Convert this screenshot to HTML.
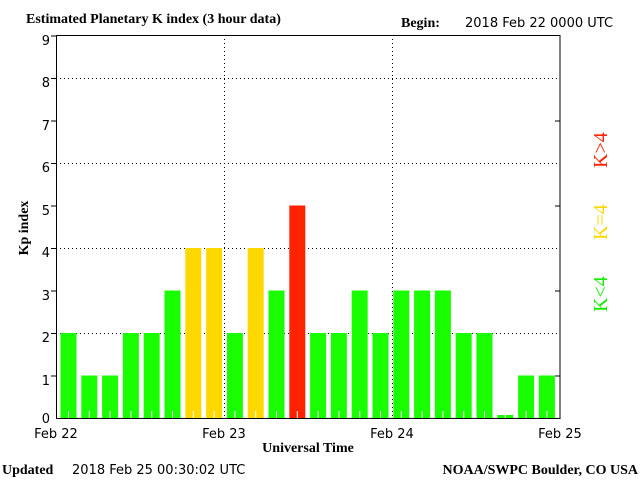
<!DOCTYPE html>
<html><head><meta charset="utf-8"><style>
html,body{margin:0;padding:0;background:#fff;}
svg{display:block;}
.s{font-family:"DejaVu Sans","Liberation Sans",sans-serif;font-size:13px;fill:#000;}
.t{font-family:"Liberation Serif",serif;font-size:14px;font-weight:bold;fill:#000;}
</style></head><body>
<svg width="640" height="480" viewBox="0 0 640 480" xmlns="http://www.w3.org/2000/svg">
<rect width="640" height="480" fill="#fff"/>
<text class="t" x="26" y="23">Estimated Planetary K index (3 hour data)</text>
<text class="t" x="401" y="27">Begin:</text>
<text class="s" x="465" y="27">2018 Feb 22 0000 UTC</text>
<g stroke="#000" stroke-width="1" stroke-dasharray="1,3">
<line x1="56" y1="78.5" x2="560" y2="78.5"/>
<line x1="56" y1="163.5" x2="560" y2="163.5"/>
<line x1="56" y1="248.5" x2="560" y2="248.5"/>
<line x1="56" y1="333.5" x2="560" y2="333.5"/>
<line x1="224.5" y1="35" x2="224.5" y2="418"/>
<line x1="392.5" y1="35" x2="392.5" y2="418"/>
</g>
<g>
<rect x="60.5" y="333" width="16" height="85" fill="#19ff00"/>
<rect x="81.3" y="375.5" width="16" height="42.5" fill="#19ff00"/>
<rect x="102.1" y="375.5" width="16" height="42.5" fill="#19ff00"/>
<rect x="122.9" y="333" width="16" height="85" fill="#19ff00"/>
<rect x="143.7" y="333" width="16" height="85" fill="#19ff00"/>
<rect x="164.5" y="290.5" width="16" height="127.5" fill="#19ff00"/>
<rect x="185.3" y="248" width="16" height="170" fill="#ffd800"/>
<rect x="206.1" y="248" width="16" height="170" fill="#ffd800"/>
<rect x="226.9" y="333" width="16" height="85" fill="#19ff00"/>
<rect x="247.7" y="248" width="16" height="170" fill="#ffd800"/>
<rect x="268.5" y="290.5" width="16" height="127.5" fill="#19ff00"/>
<rect x="289.3" y="205.5" width="16" height="212.5" fill="#ff2200"/>
<rect x="310.1" y="333" width="16" height="85" fill="#19ff00"/>
<rect x="330.9" y="333" width="16" height="85" fill="#19ff00"/>
<rect x="351.7" y="290.5" width="16" height="127.5" fill="#19ff00"/>
<rect x="372.5" y="333" width="16" height="85" fill="#19ff00"/>
<rect x="393.3" y="290.5" width="16" height="127.5" fill="#19ff00"/>
<rect x="414.1" y="290.5" width="16" height="127.5" fill="#19ff00"/>
<rect x="434.9" y="290.5" width="16" height="127.5" fill="#19ff00"/>
<rect x="455.7" y="333" width="16" height="85" fill="#19ff00"/>
<rect x="476.5" y="333" width="16" height="85" fill="#19ff00"/>
<rect x="497.3" y="415" width="16" height="3" fill="#19ff00"/>
<rect x="518.1" y="375.5" width="16" height="42.5" fill="#19ff00"/>
<rect x="538.9" y="375.5" width="16" height="42.5" fill="#19ff00"/>
</g>
<g stroke="#fff">
<line x1="68.5" y1="411" x2="68.5" y2="418"/><line x1="89.3" y1="411" x2="89.3" y2="418"/><line x1="110.1" y1="411" x2="110.1" y2="418"/><line x1="130.9" y1="411" x2="130.9" y2="418"/><line x1="151.7" y1="411" x2="151.7" y2="418"/><line x1="172.5" y1="411" x2="172.5" y2="418"/><line x1="193.3" y1="411" x2="193.3" y2="418"/><line x1="214.1" y1="411" x2="214.1" y2="418"/><line x1="234.9" y1="411" x2="234.9" y2="418"/><line x1="255.7" y1="411" x2="255.7" y2="418"/><line x1="276.5" y1="411" x2="276.5" y2="418"/><line x1="297.3" y1="411" x2="297.3" y2="418"/><line x1="318.1" y1="411" x2="318.1" y2="418"/><line x1="338.9" y1="411" x2="338.9" y2="418"/><line x1="359.7" y1="411" x2="359.7" y2="418"/><line x1="380.5" y1="411" x2="380.5" y2="418"/><line x1="401.3" y1="411" x2="401.3" y2="418"/><line x1="422.1" y1="411" x2="422.1" y2="418"/><line x1="442.9" y1="411" x2="442.9" y2="418"/><line x1="463.7" y1="411" x2="463.7" y2="418"/><line x1="484.5" y1="411" x2="484.5" y2="418"/><line x1="505.3" y1="415" x2="505.3" y2="418"/><line x1="526.1" y1="411" x2="526.1" y2="418"/><line x1="546.9" y1="411" x2="546.9" y2="418"/>
</g>
<rect x="56.5" y="35.5" width="503.5" height="383" fill="none" stroke="#000"/>
<g stroke="#000">
<line x1="51" y1="36" x2="56" y2="36"/><line x1="51" y1="78.5" x2="56" y2="78.5"/><line x1="51" y1="121" x2="56" y2="121"/><line x1="51" y1="163.5" x2="56" y2="163.5"/><line x1="51" y1="206" x2="56" y2="206"/><line x1="51" y1="248.5" x2="56" y2="248.5"/><line x1="51" y1="291" x2="56" y2="291"/><line x1="51" y1="333.5" x2="56" y2="333.5"/><line x1="51" y1="376" x2="56" y2="376"/>
<line x1="555" y1="121" x2="560" y2="121"/><line x1="555" y1="206" x2="560" y2="206"/><line x1="555" y1="291" x2="560" y2="291"/><line x1="555" y1="376" x2="560" y2="376"/>
</g>
<g class="s" text-anchor="end" font-size="15">
<text x="50" y="45">9</text><text x="50" y="87">8</text><text x="50" y="130">7</text><text x="50" y="172">6</text><text x="50" y="215">5</text><text x="50" y="257">4</text><text x="50" y="300">3</text><text x="50" y="342">2</text><text x="50" y="385">1</text><text x="50" y="423">0</text>
</g>
<g class="s" text-anchor="middle">
<text x="56" y="438">Feb 22</text><text x="224" y="438">Feb 23</text><text x="392" y="438">Feb 24</text><text x="560" y="438">Feb 25</text>
</g>
<text class="t" x="308" y="452" text-anchor="middle">Universal Time</text>
<text class="t" transform="translate(28,228) rotate(-90)" text-anchor="middle">Kp index</text>
<g font-family="Liberation Serif,serif" font-size="20">
<text transform="translate(607,168) rotate(-90)" fill="#ff2200">K&gt;4</text>
<text transform="translate(607,240) rotate(-90)" fill="#ffd800">K=4</text>
<text transform="translate(607,312) rotate(-90)" fill="#11ee00">K&lt;4</text>
</g>
<text class="t" x="2" y="474">Updated</text>
<text class="s" x="72" y="474">2018 Feb 25 00:30:02 UTC</text>
<text class="t" x="638" y="474" text-anchor="end">NOAA/SWPC Boulder, CO USA</text>
</svg>
</body></html>
